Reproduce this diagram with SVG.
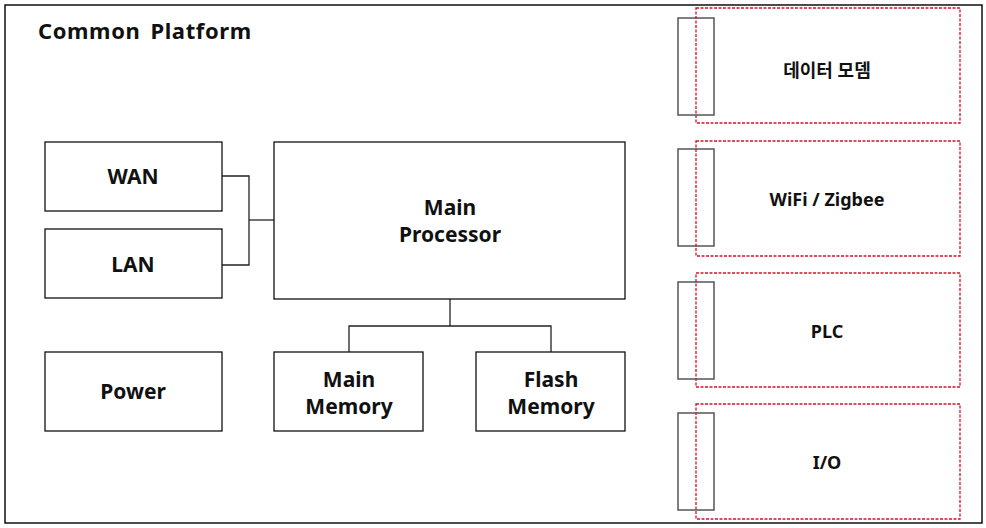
<svg xmlns="http://www.w3.org/2000/svg" width="986" height="528" viewBox="0 0 986 528">
<style>
.box{fill:#fff;stroke:#111;stroke-width:1.3}
.slot{fill:none;stroke:#555;stroke-width:1.5}
.dash{fill:none;stroke:#d8102a;stroke-width:1.3;stroke-dasharray:3 1.5}
.t{font-family:"Noto Sans","Noto Sans CJK KR",sans-serif;font-weight:bold;fill:#111;text-anchor:middle;dominant-baseline:central}
.l{font-size:21px}
.s{font-size:18px}
.wire{fill:none;stroke:#222;stroke-width:1.3}
</style>
<rect x="0" y="0" width="986" height="528" fill="#fff"/>
<rect x="5" y="5" width="977" height="518" fill="none" stroke="#111" stroke-width="1.5"/>
<text x="38" y="30" class="t" style="text-anchor:start;font-size:22px;letter-spacing:0.6px">Common<tspan dx="10">Platform</tspan></text>
<g id="connectors">
<polyline class="wire" points="222,176 249,176 249,265 222,265"/>
<line class="wire" x1="249" y1="220" x2="274" y2="220"/>
<line class="wire" x1="450" y1="299" x2="450" y2="326"/>
<polyline class="wire" points="349,352 349,326 551,326 551,352"/>
</g>
<g id="wan"><rect class="box" x="45" y="142" width="177" height="69"/><text class="t l" x="133" y="176">WAN</text></g>
<g id="lan"><rect class="box" x="45" y="229" width="177" height="69"/><text class="t l" x="133" y="264">LAN</text></g>
<g id="power"><rect class="box" x="45" y="352" width="177" height="79"/><text class="t l" x="133" y="391">Power</text></g>
<g id="processor"><rect class="box" x="274" y="142" width="351" height="157"/><text class="t l" x="450" y="207">Main</text><text class="t l" x="450" y="234">Processor</text></g>
<g id="mainmem"><rect class="box" x="274" y="352" width="149" height="79"/><text class="t l" x="349" y="379">Main</text><text class="t l" x="349" y="406">Memory</text></g>
<g id="flash"><rect class="box" x="476" y="352" width="149" height="79"/><text class="t l" x="551" y="379">Flash</text><text class="t l" x="551" y="406">Memory</text></g>
<g id="modem"><rect class="slot" x="678" y="18" width="36" height="97"/><rect class="dash" x="696" y="8" width="264" height="115"/><text class="t s" x="827" y="70">데이터 모뎀</text></g>
<g id="wifi"><rect class="slot" x="678" y="149" width="36" height="97"/><rect class="dash" x="696" y="141" width="264" height="115"/><text class="t s" x="827" y="199">WiFi / Zigbee</text></g>
<g id="plc"><rect class="slot" x="678" y="282" width="36" height="97"/><rect class="dash" x="696" y="273" width="264" height="114"/><text class="t s" x="827" y="331">PLC</text></g>
<g id="io"><rect class="slot" x="678" y="413" width="36" height="97"/><rect class="dash" x="696" y="404" width="264" height="115"/><text class="t s" x="827" y="462">I/O</text></g>
</svg>
